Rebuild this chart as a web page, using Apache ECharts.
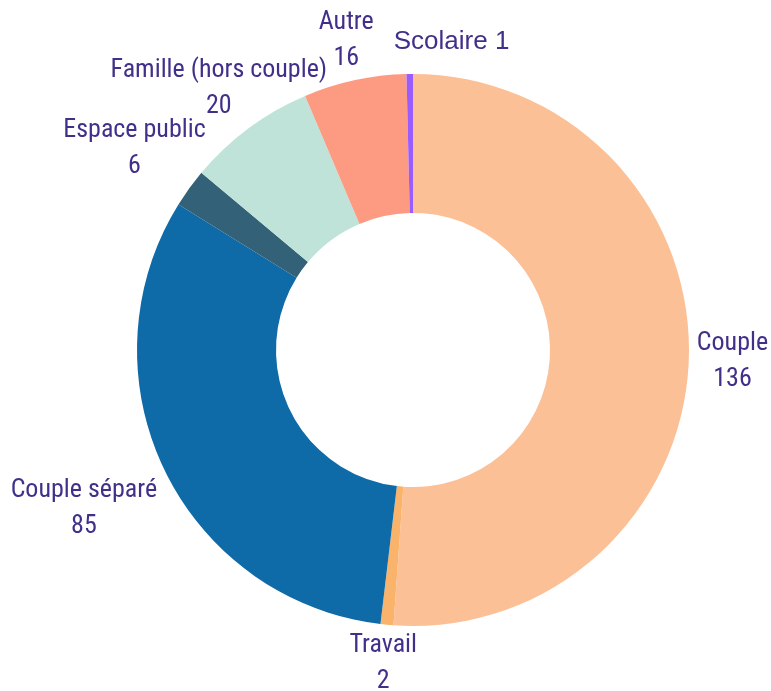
<!DOCTYPE html>
<html>
<head>
<meta charset="utf-8">
<script src="https://cdn.jsdelivr.net/npm/echarts@6/dist/echarts.min.js"></script>
<style>
  html, body { margin: 0; padding: 0; background: #fff; }
  #main { width: 771px; height: 691px; }
</style>
</head>
<body>
<div id="main"></div>
<script>
// data
const categories = ['Couple', 'Travail', 'Couple séparé', 'Espace public', 'Famille (hors couple)', 'Autre', 'Scolaire'];
const values = [136, 2, 85, 6, 20, 16, 1];
const colors = ['#fcc097', '#f9b36a', '#0f6aa8', '#336278', '#bfe3d9', '#fd9a82', '#9a5cff'];

const cx = 413, cy = 350, rOut = 276, rIn = 137;
const textColor = '#41308a';

// mid angle of each slice, clockwise from 12 o'clock
const total = values.reduce((a, b) => a + b, 0);
const midAngles = [];
let acc = 0;
values.forEach(v => {
  midAngles.push((acc + v / 2) / total * 2 * Math.PI);
  acc += v;
});

const placed = {};
function placeLabel(params) {
  const i = params.dataIndex;
  const a = midAngles[i];
  const dx = Math.sin(a), dy = -Math.cos(a);
  const w = params.labelRect.width / 2, h = params.labelRect.height / 2;
  const hb = h * (0.85 + 0.15 * Math.abs(dx)); // tighter box above/below the ring
  const t = Math.min(Math.abs(dx) > 1e-6 ? w / Math.abs(dx) : 1e9, Math.abs(dy) > 1e-6 ? hb / Math.abs(dy) : 1e9);
  const r = rOut + 8 + t;
  let x = cx + dx * r, y = cy + dy * r;
  // push away from the previous label if they really collide
  const prev = placed[i - 1];
  if (prev && x - w < prev.x + prev.w && x + w > prev.x - prev.w && Math.abs(y - prev.y) < (h + prev.h) * 0.6) {
    x = prev.x + prev.w + 20 + w;
  }
  placed[i] = { x: x, y: y, w: w, h: h };
  return { x: x, y: y, align: 'center', verticalAlign: 'middle' };
}

const pieData = categories.map((name, i) => {
  const item = { name: name, value: values[i], itemStyle: { color: colors[i] } };
  if (name === 'Scolaire') {
    item.label = { formatter: '{b} {c}', fontFamily: '"Liberation Sans", Arial, sans-serif', fontSize: 26, lineHeight: 56 };
  }
  return item;
});

const chart = echarts.init(document.getElementById('main'));
chart.setOption({
  animation: false,
  series: [{
    type: 'pie',
    center: [cx, cy],
    radius: [rIn, rOut],
    startAngle: 90,
    clockwise: true,
    avoidLabelOverlap: false,
    label: {
      show: true,
      position: 'outside',
      formatter: '{b}\n{c}',
      color: textColor,
      fontFamily: '"Roboto Condensed", sans-serif',
      fontSize: 26,
      lineHeight: 36
    },
    labelLine: { show: false },
    labelLayout: placeLabel,
    emphasis: { disabled: true },
    data: pieData
  }]
});
</script>
</body>
</html>
